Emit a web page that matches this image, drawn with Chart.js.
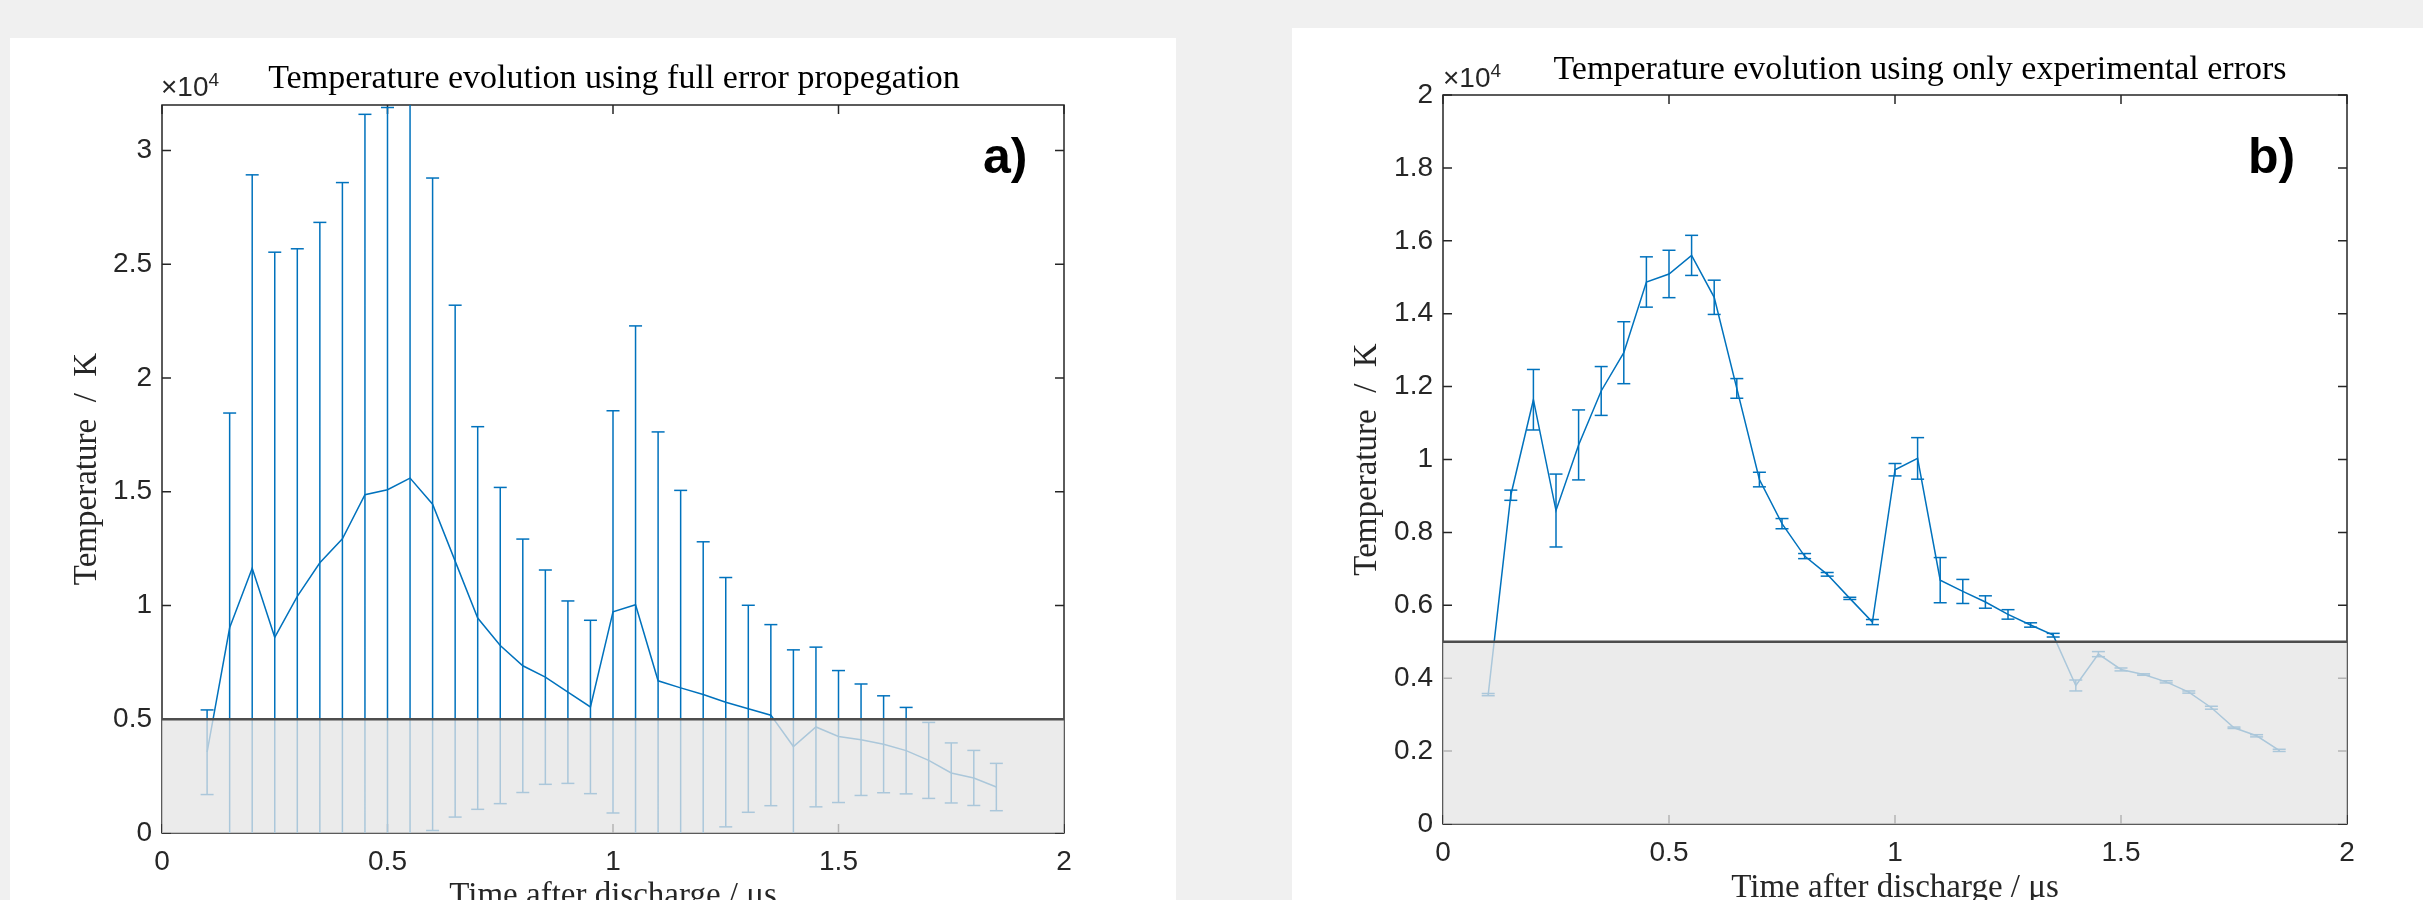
<!DOCTYPE html>
<html><head><meta charset="utf-8">
<script src="https://cdn.jsdelivr.net/npm/chart.js@4/dist/chart.umd.min.js"></script>
<style>
html,body{margin:0;padding:0;width:2423px;height:900px;overflow:hidden;background:#f0f0f0;}
.panel{position:absolute;background:#fff;height:900px;}
.panel canvas{position:absolute;left:0;top:0;}
.title{position:absolute;font-family:"Liberation Serif",serif;font-size:34px;color:#000;white-space:nowrap;transform:translateX(-50%);line-height:34px;}
.exp{position:absolute;font-family:"Liberation Sans",Arial,sans-serif;font-size:28px;color:#262626;line-height:28px;white-space:nowrap;}
.exp sup{font-size:19px;vertical-align:top;position:relative;top:-7px;}
.tag{position:absolute;font-family:"Liberation Sans",Arial,sans-serif;font-weight:bold;font-size:50px;line-height:50px;color:#000;}
</style></head><body>
<div class="panel" style="left:10px;top:38px;width:1166px;"><canvas id="ca" width="1166" height="900"></canvas></div>
<div class="panel" style="left:1292px;top:28px;width:1131px;"><canvas id="cb" width="1131" height="900"></canvas></div>
<div class="title" style="left:614px;top:60px;">Temperature evolution using full error propegation</div>
<div class="title" style="left:1920px;top:51px;">Temperature evolution using only experimental errors</div>
<div class="exp" style="left:161px;top:73px;">×10<sup>4</sup></div>
<div class="exp" style="left:1443px;top:64px;">×10<sup>4</sup></div>
<div class="tag" style="left:983px;top:131px;">a)</div>
<div class="tag" style="left:2248px;top:131px;">b)</div>
<script>
// ---- data (temperature in K, time in microseconds) ----
const time = [0.10,0.15,0.20,0.25,0.30,0.35,0.40,0.45,0.50,0.55,0.60,0.65,0.70,0.75,0.80,0.85,0.90,0.95,1.00,1.05,1.10,1.15,1.20,1.25,1.30,1.35,1.40,1.45,1.50,1.55,1.60,1.65,1.70,1.75,1.80,1.85];
const temperature = [3550,9020,11640,8600,10400,11880,12930,14870,15090,15600,14450,11950,9450,8240,7350,6850,6190,5540,9720,10030,6690,6380,6090,5750,5460,5180,3800,4660,4240,4100,3900,3620,3190,2640,2420,2020];
const errFull = [1860,9440,17290,16930,15280,14960,15660,16720,16800,17500,14340,11250,8410,6950,5570,4710,4010,3810,8840,12260,10940,8680,6710,5480,4550,3980,4250,3510,2900,2450,2130,1900,1670,1320,1210,1040];
const errExp = [30,140,830,1000,960,670,850,690,650,550,470,270,200,140,70,50,30,70,170,570,620,330,170,130,60,50,150,70,40,20,30,30,40,20,30,30];
const threshold = 5000;
const xTicks = [0,0.5,1,1.5,2];
const yTicksA = [0,5000,10000,15000,20000,25000,30000];
const yTicksB = [0,2000,4000,6000,8000,10000,12000,14000,16000,18000,20000];
const xMin = 0, xMax = 2;
const yMaxA = 32000, yMaxB = 20000;

const BLUE = '#0072BD';
const TICK_FONT = {family:'"Liberation Sans", Arial, sans-serif', size:28};
const LABEL_FONT = {family:'"Liberation Serif", serif', size:33};

const boxPlugin = {
  id:'box',
  beforeDatasetsDraw(chart){
    const {ctx, chartArea:a, scales:{x,y}} = chart;
    ctx.save();
    ctx.strokeStyle = '#262626'; ctx.lineWidth = 1.5;
    ctx.strokeRect(a.left, a.top, a.right-a.left, a.bottom-a.top);
    ctx.beginPath();
    const L = 9;
    x.ticks.forEach(t=>{const p=x.getPixelForValue(t.value);ctx.moveTo(p,a.bottom);ctx.lineTo(p,a.bottom-L);ctx.moveTo(p,a.top);ctx.lineTo(p,a.top+L);});
    y.ticks.forEach(t=>{const p=y.getPixelForValue(t.value);ctx.moveTo(a.left,p);ctx.lineTo(a.left+L,p);ctx.moveTo(a.right,p);ctx.lineTo(a.right-L,p);});
    ctx.stroke();
    ctx.restore();
  }
};

function stems(err){const d=[];time.forEach((t,i)=>{d.push({x:t,y:temperature[i]-err[i]},{x:t,y:temperature[i]+err[i]},{x:t,y:null});});return d;}
function caps(err){const d=[];time.forEach((t,i)=>{d.push({x:t,y:temperature[i]-err[i]},{x:t,y:temperature[i]+err[i]});});return d;}

function makeChart(id, err, yMax, yTicks, g){
  return new Chart(document.getElementById(id), {
    type:'scatter',
    data:{datasets:[
      {label:'threshold', data:[{x:xMin,y:threshold},{x:xMax,y:threshold}], showLine:true, fill:'origin',
       backgroundColor:'rgba(228,228,228,0.75)', borderColor:'#4d4d4d', borderWidth:2.5, pointRadius:0, order:0},
      {label:'temperature', data:time.map((t,i)=>({x:t,y:temperature[i]})), showLine:true, borderColor:BLUE, borderWidth:1.5, pointRadius:0, order:1},
      {label:'caps', data:caps(err), showLine:false, pointStyle:'line', pointRadius:g.cap, borderColor:BLUE, pointBorderColor:BLUE, pointBorderWidth:1.5, order:2},
      {label:'errors', data:stems(err), showLine:true, spanGaps:false, borderColor:BLUE, borderWidth:1.5, pointRadius:0, order:3}
    ]},
    options:{
      responsive:false, animation:false, devicePixelRatio:1, events:[],
      layout:{padding:{left:0,right:g.right,top:g.top,bottom:0}},
      plugins:{legend:{display:false}, tooltip:{enabled:false}},
      scales:{
        x:{type:'linear', min:xMin, max:xMax,
           afterBuildTicks:s=>{s.ticks=xTicks.map(v=>({value:v}));},
           afterFit:s=>{s.height=g.xh;},
           grid:{display:false,drawTicks:false}, border:{display:false},
           ticks:{padding:12, font:TICK_FONT, color:'#262626', maxRotation:0, autoSkip:false, callback:v=>String(v)},
           title:{display:true, text:'Time after discharge / μs', font:LABEL_FONT, color:'#262626', padding:{top:0,bottom:g.xtp}}},
        y:{type:'linear', min:0, max:yMax,
           afterBuildTicks:s=>{s.ticks=yTicks.map(v=>({value:v}));},
           afterFit:s=>{s.width=g.yw;},
           grid:{display:false,drawTicks:false}, border:{display:false},
           ticks:{padding:10, font:TICK_FONT, color:'#262626', autoSkip:false, callback:v=>String(Math.round(v)/1e4)},
           title:{display:true, text:'Temperature  /  K', font:LABEL_FONT, color:'#262626', padding:{top:g.ytp,bottom:0}}}
      }
    },
    plugins:[boxPlugin]
  });
}

makeChart('ca', errFull, yMaxA, yTicksA, {right:112, top:67, xh:105, yw:152, xtp:22, ytp:58, cap:6.5});
makeChart('cb', errExp, yMaxB, yTicksB, {right:76, top:67, xh:104, yw:151, xtp:20, ytp:56, cap:6.5});
</script>
</body></html>
